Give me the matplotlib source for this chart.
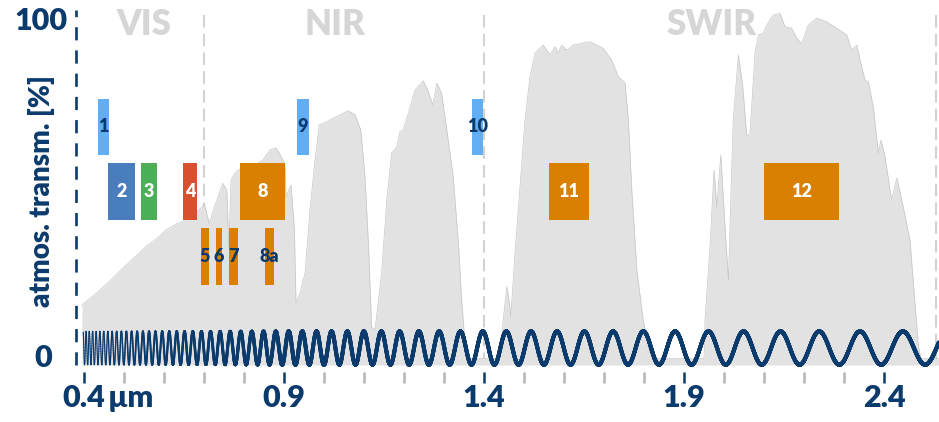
import numpy as np
import matplotlib.pyplot as plt
from matplotlib.collections import LineCollection
from matplotlib.transforms import offset_copy

plt.rcParams['font.family'] = ['Lato', 'DejaVu Sans']
plt.rcParams['font.weight'] = 'heavy'

NAVY = '#0b3a6c'
LIGHT_GREY = '#d2d2d2'

# atmospheric transmission (wavelength in um, transmission in %)
wl = [0.395, 0.430, 0.463, 0.497, 0.530, 0.555, 0.580, 0.605, 0.630, 0.655,
      0.680, 0.701, 0.713, 0.726, 0.747, 0.757, 0.762, 0.7675, 0.780, 0.797,
      0.8275, 0.8475, 0.865, 0.880, 0.895, 0.9025, 0.905, 0.9175, 0.926, 0.930,
      0.940, 0.9525, 0.965, 0.9775, 0.988, 1.007, 1.040, 1.061, 1.0775, 1.092,
      1.1025, 1.111, 1.119, 1.1275, 1.144, 1.157, 1.169, 1.182, 1.190, 1.198,
      1.211, 1.2275, 1.248, 1.261, 1.272, 1.282, 1.294, 1.307, 1.323, 1.336,
      1.344, 1.350, 1.3575, 1.440, 1.448, 1.457, 1.4625, 1.467, 1.4775, 1.490,
      1.5025, 1.515, 1.5275, 1.548, 1.565, 1.5775, 1.586, 1.594, 1.607, 1.623,
      1.665, 1.698, 1.719, 1.736, 1.7525, 1.761, 1.769, 1.782, 1.798, 1.815,
      1.8275, 1.950, 1.9525, 1.965, 1.975, 1.982, 1.992, 2.0025, 2.011, 2.023,
      2.036, 2.047, 2.057, 2.065, 2.0775, 2.086, 2.098, 2.107, 2.123, 2.140,
      2.1525, 2.169, 2.182, 2.194, 2.211, 2.232, 2.257, 2.282, 2.307, 2.319,
      2.332, 2.344, 2.3525, 2.361, 2.373, 2.386, 2.3925, 2.4025, 2.419, 2.432,
      2.448, 2.465, 2.4775, 2.486, 2.4925, 2.5375]
trans = [15.9, 19.3, 22.8, 26.8, 30.4, 33.2, 35.4, 38.1, 39.9, 41.1,
         43.1, 45.8, 40.1, 45.0, 52.0, 50.0, 33.0, 53.0, 55.4, 56.9,
         57.4, 58.9, 61.9, 62.5, 59.5, 57.4, 48.0, 51.5, 38.1, 16.5,
         19.4, 25.4, 44.1, 58.9, 69.3, 70.3, 72.3, 73.5, 72.3, 67.8,
         53.9, 34.3, 9.4, 8.5, 25.4, 47.0, 61.0, 62.8, 67.3, 67.8,
         72.8, 79.7, 82.4, 79.2, 75.2, 81.7, 78.7, 67.8, 53.9, 34.3,
         17.4, 8.5, 0.0, 0.0, 11.4, 21.3, 17.4, 12.4, 31.2, 51.0,
         70.8, 83.6, 90.6, 93.0, 90.1, 92.5, 90.6, 93.0, 91.5, 93.0,
         94.0, 92.0, 88.6, 83.6, 81.7, 70.8, 51.0, 26.3, 11.4, 1.6,
         0.0, 0.0, 11.4, 33.2, 55.9, 45.0, 60.4, 39.1, 23.3, 70.8,
         90.1, 80.7, 65.8, 66.8, 90.6, 96.0, 96.5, 99.0, 101.9, 102.4,
         98.5, 98.0, 95.0, 93.5, 99.0, 101.0, 99.9, 98.0, 96.0, 91.5,
         93.0, 86.6, 82.6, 82.1, 74.7, 60.9, 64.8, 59.9, 47.0, 53.6,
         45.0, 35.2, 16.5, 3.5, 0.0, 0.0]

# Sentinel-2 MSI bands (um)
band_names = ['1', '2', '3', '4', '5', '6', '7', '8', '8a', '9', '10', '11', '12']
band_start = [0.435, 0.460, 0.5425, 0.6475, 0.6925, 0.730, 0.7625, 0.790,
              0.8525, 0.9325, 1.370, 1.5625, 2.100]
band_end = [0.4625, 0.5275, 0.5825, 0.6825, 0.7125, 0.745, 0.785, 0.9025,
            0.875, 0.9625, 1.3975, 1.6625, 2.2875]
band_row = ['top', 'mid', 'mid', 'mid', 'low', 'low', 'low', 'mid',
            'low', 'top', 'top', 'mid', 'mid']

regions = ['VIS', 'NIR', 'SWIR']
region_x = [0.55, 1.0275, 1.97]
region_edges = [0.7, 1.4, 2.53]

tick_major = [0.4, 0.9, 1.4, 1.9, 2.4]
tick_labels = ['0.4', '0.9', '1.4', '1.9', '2.4']
tick_minor = [0.5, 0.6, 0.7, 0.8, 1.0, 1.1, 1.2, 1.3, 1.5, 1.6, 1.7, 1.8,
              2.0, 2.1, 2.2, 2.3]

rows = {'top': (60.4, 77.0), 'mid': (41.1, 58.0), 'low': (21.8, 38.7)}
band_colors = {'1': '#62aef5', '9': '#62aef5', '10': '#62aef5',
               '2': '#4a7dbd', '3': '#4cae56', '4': '#d9502f'}
dark_text = ['1', '9', '10', '5', '6', '7', '8a']

fig = plt.figure(figsize=(9.39, 4.22), dpi=100)
ax = fig.add_axes([76 / 939, 57 / 422, 863 / 939, 355 / 422])
ax.set_xlim(0.38, 2.5375)
ax.set_ylim(-1.93, 103.4)

# region separators and the left dashed axis
for x in region_edges:
    ax.axvline(x, color=LIGHT_GREY, lw=1.5, dashes=(6, 3), zorder=1)
ax.axvline(0.38, color=NAVY, lw=1.9, dashes=(5, 3.8), zorder=6, clip_on=False)

ax.fill_between(wl, -1.93, trans, color='#e2e2e2', zorder=2, lw=0)
ax.plot(wl, trans, color='#c6c6c6', lw=0.5, zorder=2)

for name, s, e, r in zip(band_names, band_start, band_end, band_row):
    lo, hi = rows[r]
    ax.bar(s, hi - lo, width=e - s, bottom=lo, align='edge',
           color=band_colors.get(name, '#d98000'), lw=0, zorder=3)
    ax.text((s + e) / 2, (lo + hi) / 2, name, ha='center', va='center',
            fontsize=13, color=NAVY if name in dark_text else 'white', zorder=4)

for name, x in zip(regions, region_x):
    ax.text(x, 99, name, ha='center', va='center', fontsize=25,
            color='#d6d6d6', zorder=4)

# wavelength wave: period grows with wavelength, stroke thins where it is dense
lam = np.linspace(0.398, 2.5375, 10000)
cycles = np.log((lam - 0.25) / 0.25) / 0.05 - 0.22
wave = 3.1 + 4.95 * np.sin(2 * np.pi * cycles)
period_px = 0.05 * (lam - 0.25) * 400
width_pt = np.clip(0.3 * period_px, 1.1, 4.0) * 0.72
pts = np.column_stack([lam, wave]).reshape(-1, 1, 2)
segs = np.concatenate([pts[:-1], pts[1:]], axis=1)
wave_lc = LineCollection(segs, colors=NAVY, linewidths=width_pt[:-1],
                         zorder=5, clip_on=False, capstyle='round')
ax.add_collection(wave_lc)

for s in ['top', 'right', 'left']:
    ax.spines[s].set_visible(False)
ax.spines['bottom'].set_position(('outward', 5))
ax.spines['bottom'].set_visible(False)
ax.set_yticks([])
ax.set_xticks(tick_major, labels=tick_labels)
ax.set_xticks(tick_minor, minor=True)
ax.tick_params(axis='x', which='major', direction='out', length=8, width=1.8,
               color=NAVY, labelcolor=NAVY, labelsize=22, pad=1)
ax.tick_params(axis='x', which='minor', direction='out', length=8, width=1.8,
               color='#b4b4b4')

lbl_tf = offset_copy(ax.get_xaxis_transform(), fig=fig, y=-14, units='points')
ax.text(0.46, 0, 'µm', transform=lbl_tf, ha='left', va='top', fontsize=22,
        color=NAVY)

ax.text(-35 / 863, 100, '100', transform=ax.get_yaxis_transform(),
        ha='center', va='center', fontsize=22, color=NAVY)
ax.text(-32.5 / 863, 0, '0', transform=ax.get_yaxis_transform(),
        ha='center', va='center', fontsize=22, color=NAVY)
ax.text(-34 / 863, 49.7, 'atmos. transm. [%]', transform=ax.get_yaxis_transform(),
        ha='center', va='center', rotation=90, fontsize=20, color=NAVY)

fig.savefig('out.png', dpi=100)
